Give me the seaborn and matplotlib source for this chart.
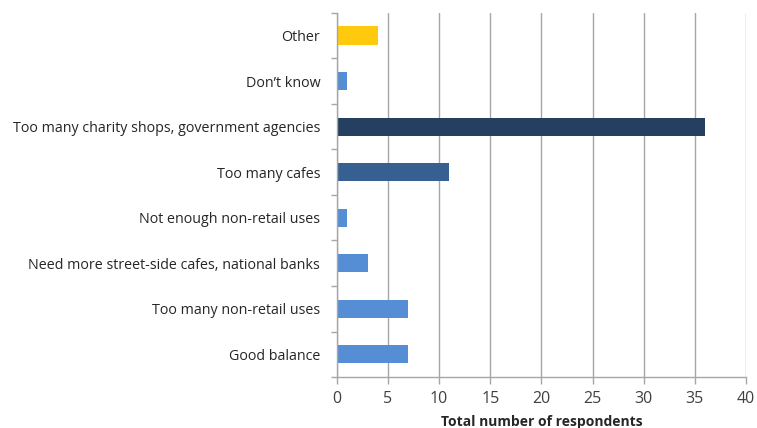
import matplotlib
matplotlib.use("Agg")
import matplotlib.pyplot as plt
import seaborn as sns
import pandas as pd
import numpy as np

categories = [
    "Other",
    "Don\u2019t know",
    "Too many charity shops, government agencies",
    "Too many cafes",
    "Not enough non-retail uses",
    "Need more street-side cafes, national banks",
    "Too many non-retail uses",
    "Good balance",
]
respondents = [4, 1, 36, 11, 1, 3, 7, 7]
bar_colors = ["#FFC90E", "#558ED5", "#243F60", "#376092",
              "#558ED5", "#558ED5", "#558ED5", "#558ED5"]
x_ticks = [0, 5, 10, 15, 20, 25, 30, 35, 40]

sns.set_theme(style="white")
plt.rcParams["font.family"] = ["Open Sans", "DejaVu Sans"]

df = pd.DataFrame({"category": categories, "respondents": respondents})

fig = plt.figure(figsize=(7.57, 4.28), dpi=100)
ax = fig.add_axes([0.445, 0.119, 0.5405, 0.851])

sns.barplot(data=df, x="respondents", y="category", hue="category",
            palette=dict(zip(categories, bar_colors)), order=categories,
            width=0.4, orient="h", legend=False, saturation=1,
            linewidth=0, ax=ax)

ax.set_xlim(0, 40)
ax.set_ylim(len(categories) - 0.5, -0.5)
ax.set_xticks(x_ticks)
ax.set_xticklabels([str(t) for t in x_ticks], fontsize=11.5, color="#404040")
ax.xaxis.grid(True, color="#A6A6A6", linewidth=1)
ax.set_axisbelow(True)

ax.tick_params(axis="y", which="major", length=0, pad=12, labelsize=10.3,
               labelcolor="#262626")
ax.set_yticks(np.arange(-0.5, len(categories), 1.0), minor=True)
ax.tick_params(axis="y", which="minor", length=4, color="#A6A6A6", width=1,
               direction="out", left=True)
ax.tick_params(axis="x", which="major", length=5, color="#A6A6A6", width=1,
               direction="out", bottom=True, pad=5)

for side in ["top", "right"]:
    ax.spines[side].set_visible(False)
for side in ["left", "bottom"]:
    ax.spines[side].set_color("#A6A6A6")
    ax.spines[side].set_linewidth(1)

ax.set_ylabel("")
ax.set_xlabel("Total number of respondents", fontsize=10, fontweight="bold",
              color="#262626", labelpad=6)

fig.savefig("out.png", dpi=100, facecolor="white")
